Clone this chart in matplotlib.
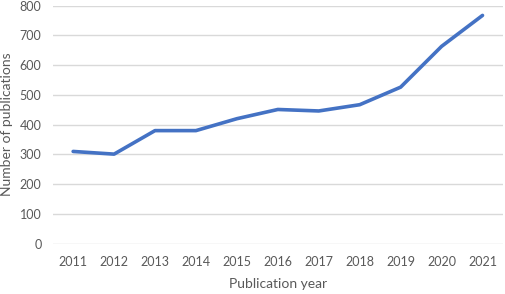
import matplotlib
matplotlib.use("Agg")
import matplotlib.pyplot as plt

years = ["2011", "2012", "2013", "2014", "2015", "2016", "2017", "2018", "2019", "2020", "2021"]
publications = [310, 301, 380, 380, 420, 451, 446, 467, 526, 663, 767]
y_ticks = [0, 100, 200, 300, 400, 500, 600, 700, 800]

plt.rcParams['font.family'] = ['Lato', 'DejaVu Sans']

fig = plt.figure(figsize=(5.05, 2.94), dpi=100)
ax = fig.add_axes([0.1043, 0.171, 0.8917, 0.810])
x = list(range(len(years)))
ax.plot(x, publications, color="#4472C4", linewidth=2.6, solid_capstyle="round", solid_joinstyle="round", zorder=3)
ax.set_xlim(-0.5, len(years) - 0.5)
ax.set_ylim(0, 800)
ax.set_yticks(y_ticks)
ax.set_xticks(x)
ax.set_xticklabels(years)
ax.grid(axis="y", color="#D9D9D9", linewidth=1)
ax.set_axisbelow(True)
for s in ax.spines.values():
    s.set_visible(False)
ax.tick_params(axis="both", length=0, labelsize=9, labelcolor="#595959")
ax.tick_params(axis="x", pad=9)
ax.tick_params(axis="y", pad=8)
ax.set_xlabel("Publication year", fontsize=10, color="#595959", labelpad=7)
ax.set_ylabel("Number of publications", fontsize=10, color="#595959", labelpad=5)
fig.savefig("out.png", dpi=100, facecolor="white")
